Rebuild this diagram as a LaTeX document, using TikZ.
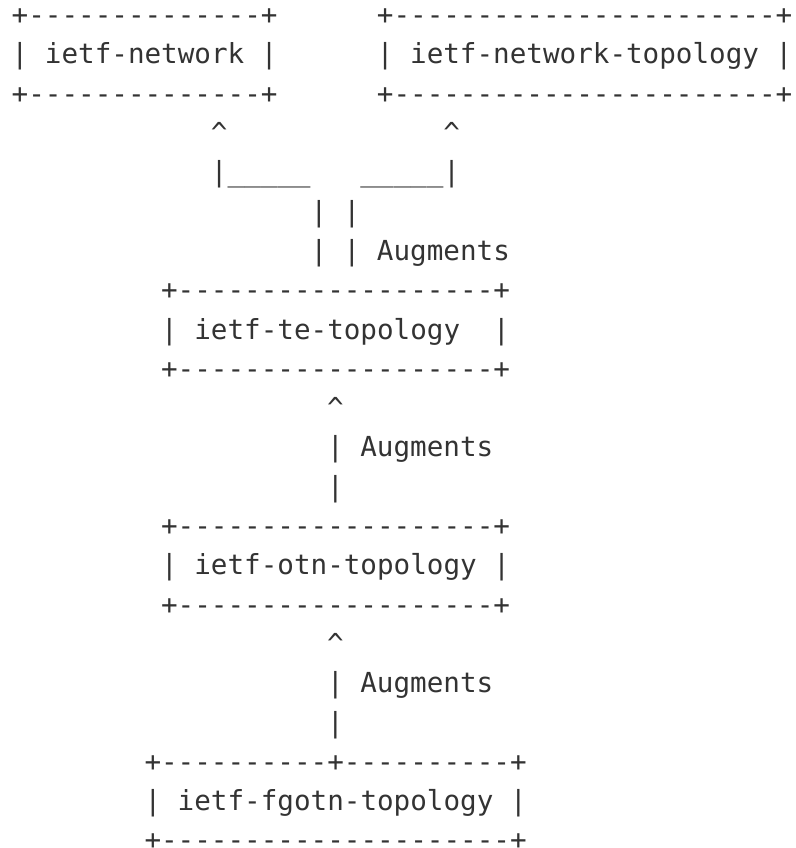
\documentclass[tikz,border=0pt]{standalone}
\usepackage{fontspec}
\setmonofont{DejaVu Sans Mono}
\definecolor{ink}{HTML}{333333}
\tikzset{asc/.style={anchor=mid west,inner sep=0pt,outer sep=0pt,text=ink,
  font=\ttfamily\fontsize{27.6pt}{39.3pt}\selectfont}}
\newcommand\asc[4]{\node[asc] (#1) at ({11.7pt+#2*16.6pt},{-22.5pt-(#3-1)*39.3pt}) {#4};}
\begin{document}
\begin{tikzpicture}
\useasboundingbox (0pt,0pt) rectangle (795pt,-848pt);
\asc{a1}{0}{1}{+--------------+}
\asc{b1}{22}{1}{+-----------------------+}
\asc{net}{0}{2}{| ietf-network |}
\asc{nettopo}{22}{2}{| ietf-network-topology |}
\asc{a3}{0}{3}{+--------------+}
\asc{b3}{22}{3}{+-----------------------+}
\asc{up1}{12}{4}{\textasciicircum}
\asc{up2}{26}{4}{\textasciicircum}
\asc{l5}{12}{5}{|\_\_\_\_\_}
\asc{r5}{21}{5}{\_\_\_\_\_|}
\asc{l6}{18}{6}{| |}
\asc{l7}{18}{7}{| | Augments}
\asc{te1}{9}{8}{+-------------------+}
\asc{te}{9}{9}{| ietf-te-topology}
\asc{te9}{29}{9}{|}
\asc{te3}{9}{10}{+-------------------+}
\asc{up3}{19}{11}{\textasciicircum}
\asc{l12}{19}{12}{| Augments}
\asc{l13}{19}{13}{|}
\asc{otn1}{9}{14}{+-------------------+}
\asc{otn}{9}{15}{| ietf-otn-topology |}
\asc{otn3}{9}{16}{+-------------------+}
\asc{up4}{19}{17}{\textasciicircum}
\asc{l18}{19}{18}{| Augments}
\asc{l19}{19}{19}{|}
\asc{fg1}{8}{20}{+----------+----------+}
\asc{fg}{8}{21}{| ietf-fgotn-topology |}
\asc{fg3}{8}{22}{+---------------------+}
\end{tikzpicture}
\end{document}
